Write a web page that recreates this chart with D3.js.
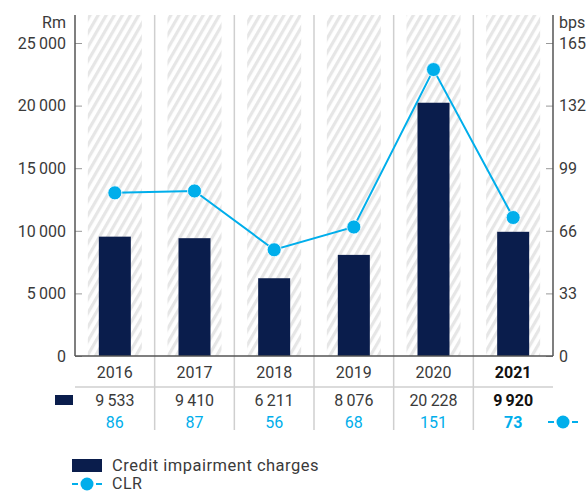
<!DOCTYPE html>
<head>
<meta charset="utf-8">
<script src="https://cdnjs.cloudflare.com/ajax/libs/d3/7.9.0/d3.min.js"></script>
<style>
  body { margin: 0; background: #fff; }
  text { font-family: Roboto, "Open Sans", sans-serif; }
</style>
</head>
<body>
<div id="chart"></div>
<script>

// data
const years = ["2016", "2017", "2018", "2019", "2020", "2021"]
const charges = [9533, 9410, 6211, 8076, 20228, 9920]
const clr = [86, 87, 56, 68, 151, 73]
const leftTicks = [0, 5000, 10000, 15000, 20000, 25000]
const rightTicks = [0, 33, 66, 99, 132, 165]

const navy = "#0a1d4c"
const blue = "#00aeeb"
const textCol = "#3a3a3a"
const fs = 16

const W = 587, H = 494
const plot = {left: 75, right: 553, top: 15, bottom: 356}

const svg = d3.select("#chart").append("svg")
    .attr("width", W).attr("height", H)

// hatch pattern
const defs = svg.append("defs")
const pat = defs.append("pattern")
    .attr("id", "hatch")
    .attr("patternUnits", "userSpaceOnUse")
    .attr("width", 7).attr("height", 7)
    .attr("patternTransform", "rotate(30)")
pat.append("rect").attr("width", 7).attr("height", 7).attr("fill", "#fff")
pat.append("rect").attr("width", 3.2).attr("height", 7).attr("fill", "#e6e6e6")

const x = d3.scaleBand().domain(years).range([plot.left, plot.right])
const yL = d3.scaleLinear().domain([0, 25000]).range([plot.bottom, 43])
const yR = d3.scaleLinear().domain([0, 165]).range([plot.bottom, 43])

const hatchW = 54, barW = 32
const fmt = d3.format(",")
const spaced = v => fmt(v).replace(/,/g, "\u2009")
const cx = (i) => x(years[i]) + x.bandwidth() / 2

// hatched backgrounds
svg.selectAll(".bg").data(years).join("rect")
    .attr("x", d => x(d) + x.bandwidth() / 2 - hatchW / 2)
    .attr("y", plot.top)
    .attr("width", hatchW)
    .attr("height", plot.bottom - plot.top)
    .attr("fill", "url(#hatch)")

// column separators
svg.selectAll(".sep").data(years.slice(1)).join("line")
    .attr("x1", d => x(d)).attr("x2", d => x(d))
    .attr("y1", plot.top).attr("y2", 430)
    .attr("stroke", "#cfcfcf").attr("stroke-width", 1.5)

// bars
svg.selectAll(".bar").data(charges).join("rect")
    .attr("x", (d, i) => cx(i) - barW / 2)
    .attr("y", d => yL(d))
    .attr("width", barW)
    .attr("height", d => yL(0) - yL(d))
    .attr("fill", navy)

// axes
const axL = svg.append("g").attr("transform", `translate(${plot.left},0)`)
    .call(d3.axisRight(yL).tickValues(leftTicks).tickSize(7).tickFormat(""))
axL.select(".domain").remove()
axL.selectAll(".tick line").attr("stroke", "#999")
svg.append("line").attr("x1", plot.left).attr("x2", plot.left)
    .attr("y1", plot.top).attr("y2", plot.bottom).attr("stroke", "#555").attr("stroke-width", 1.5)

const axR = svg.append("g").attr("transform", `translate(${plot.right},0)`)
    .call(d3.axisLeft(yR).tickValues(rightTicks).tickSize(7).tickFormat(""))
axR.select(".domain").remove()
axR.selectAll(".tick line").attr("stroke", "#999")
svg.append("line").attr("x1", plot.right).attr("x2", plot.right)
    .attr("y1", plot.top).attr("y2", plot.bottom).attr("stroke", "#555").attr("stroke-width", 1.5)

// baseline
svg.append("line").attr("x1", plot.left).attr("x2", plot.right)
    .attr("y1", plot.bottom).attr("y2", plot.bottom)
    .attr("stroke", "#555").attr("stroke-width", 1.5)

// tick labels
svg.selectAll(".lt").data(leftTicks).join("text")
    .attr("x", 66).attr("y", d => yL(d)).attr("dy", "0.36em")
    .attr("text-anchor", "end").attr("font-size", fs)
    .attr("fill", textCol).text(d => spaced(d))
svg.selectAll(".rt").data(rightTicks).join("text")
    .attr("x", 559).attr("y", d => yR(d)).attr("dy", "0.36em")
    .attr("font-size", fs)
    .attr("fill", textCol).text(d => d)
svg.append("text").attr("x", 66).attr("y", 28).attr("text-anchor", "end")
    .attr("font-size", fs).attr("fill", textCol).text("Rm")
svg.append("text").attr("x", 559).attr("y", 28)
    .attr("font-size", fs).attr("fill", textCol).text("bps")

// CLR line
const line = d3.line()
    .x((d, i) => cx(i))
    .y(d => yR(d))
svg.append("path").datum(clr)
    .attr("d", line).attr("fill", "none")
    .attr("stroke", blue).attr("stroke-width", 2)
svg.selectAll(".dot").data(clr).join("circle")
    .attr("cx", (d, i) => cx(i))
    .attr("cy", d => yR(d))
    .attr("r", 7).attr("fill", blue)
    .attr("stroke", "#fff").attr("stroke-width", 0.8)

// table
svg.append("line").attr("x1", plot.left).attr("x2", plot.right)
    .attr("y1", 387).attr("y2", 387).attr("stroke", "#cfcfcf").attr("stroke-width", 1.5)

const last = years.length - 1
svg.selectAll(".yr").data(years).join("text")
    .attr("x", (d, i) => cx(i)).attr("y", 378)
    .attr("text-anchor", "middle").attr("font-size", fs)
    .attr("font-weight", (d, i) => i === last ? 700 : 400)
    .attr("fill", (d, i) => i === last ? "#111" : textCol).text(d => d)
svg.selectAll(".val").data(charges).join("text")
    .attr("x", (d, i) => cx(i)).attr("y", 406)
    .attr("text-anchor", "middle").attr("font-size", fs)
    .attr("font-weight", (d, i) => i === last ? 700 : 400)
    .attr("fill", (d, i) => i === last ? "#111" : textCol).text(d => spaced(d))
svg.selectAll(".clr").data(clr).join("text")
    .attr("x", (d, i) => cx(i)).attr("y", 428)
    .attr("text-anchor", "middle").attr("font-size", fs)
    .attr("font-weight", (d, i) => i === last ? 700 : 400)
    .attr("fill", blue).text(d => d)

// row keys
svg.append("rect").attr("x", 55).attr("y", 395).attr("width", 18).attr("height", 10).attr("fill", navy)

function clrKey(g, kx, ky) {
    g.append("line").attr("x1", kx - 15).attr("x2", kx - 9).attr("y1", ky).attr("y2", ky)
        .attr("stroke", blue).attr("stroke-width", 2)
    g.append("line").attr("x1", kx + 9).attr("x2", kx + 15).attr("y1", ky).attr("y2", ky)
        .attr("stroke", blue).attr("stroke-width", 2)
    g.append("circle").attr("cx", kx).attr("cy", ky).attr("r", 6.5).attr("fill", blue)
}
clrKey(svg, 563, 422)

// legend
const leg = svg.append("g")
leg.append("rect").attr("x", 72).attr("y", 459).attr("width", 30).attr("height", 13).attr("fill", navy)
leg.append("text").attr("x", 112).attr("y", 471).attr("font-size", 16.5)
    .attr("letter-spacing", 0.5)
    .attr("fill", textCol).text("Credit impairment charges")
clrKey(leg, 87, 484)
leg.append("text").attr("x", 112).attr("y", 489).attr("font-size", 16)
    .attr("letter-spacing", 0.5)
    .attr("fill", textCol).text("CLR")

</script>
</body>
